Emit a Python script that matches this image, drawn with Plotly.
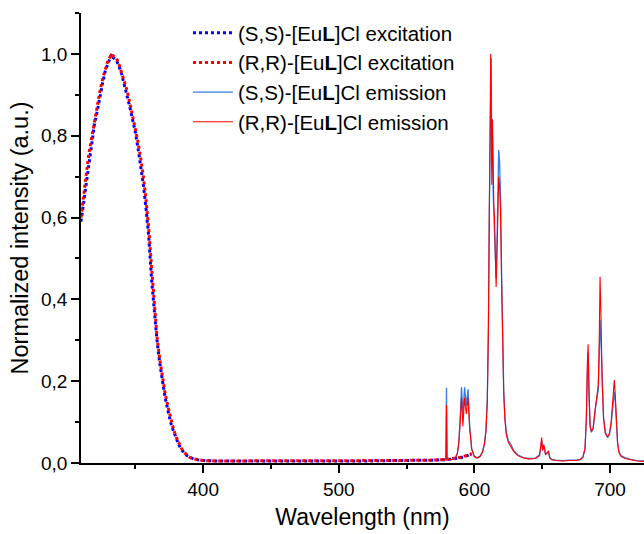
import plotly.graph_objects as go

# ---------------- data ----------------
exc_wl = [310, 312, 314, 316, 318, 320, 322, 324, 326, 328, 330, 332, 333, 334, 336, 338,
          340, 342, 344, 346, 348, 350, 352, 354, 356, 358, 360, 362, 364, 366, 368, 370,
          372, 374, 376, 378, 380, 382, 384, 386, 388, 390, 393, 396, 400, 410, 420, 440,
          460, 480, 500, 520, 540, 560, 570, 580, 585, 590, 595, 598]
exc_ss = [0.59, 0.64, 0.69, 0.74, 0.78, 0.83, 0.86, 0.90, 0.93, 0.96, 0.98, 0.995, 1.0, 0.99, 0.985, 0.97,
          0.95, 0.925, 0.90, 0.87, 0.84, 0.81, 0.77, 0.73, 0.68, 0.62, 0.55, 0.45, 0.37, 0.30, 0.245, 0.20,
          0.16, 0.13, 0.10, 0.08, 0.06, 0.045, 0.033, 0.024, 0.018, 0.014, 0.010, 0.008, 0.006, 0.005, 0.005, 0.004,
          0.004, 0.005, 0.005, 0.005, 0.006, 0.006, 0.007, 0.008, 0.010, 0.013, 0.018, 0.024]
exc_rr = [0.60, 0.66, 0.71, 0.76, 0.80, 0.84, 0.875, 0.91, 0.94, 0.965, 0.985, 0.995, 0.99, 0.995, 0.99, 0.975,
          0.955, 0.935, 0.91, 0.88, 0.85, 0.82, 0.785, 0.745, 0.70, 0.64, 0.57, 0.48, 0.39, 0.31, 0.255, 0.21,
          0.17, 0.14, 0.11, 0.085, 0.065, 0.05, 0.036, 0.026, 0.019, 0.014, 0.010, 0.008, 0.006, 0.005, 0.005, 0.005,
          0.005, 0.005, 0.006, 0.006, 0.006, 0.007, 0.007, 0.009, 0.011, 0.014, 0.019, 0.022]

em_wl = [575, 578, 579.0, 579.4, 579.8, 581, 584, 586, 587.5, 588.5, 589.5, 590.5, 591.5, 592.8, 594.0,
         595.3, 596.5, 598, 600, 602, 604, 606, 607.5, 608.5, 609.5, 610.3, 611.0, 611.6, 612.0, 612.4,
         612.8, 613.3, 613.8, 614.3, 614.8, 615.3, 616.0, 616.7, 617.3, 617.9, 618.5, 619.2, 620.0, 620.8,
         621.6, 622.5, 623.5, 625, 627, 629, 632, 636, 640, 645, 648, 649.0, 649.6, 650.3, 651.0, 651.6,
         652.4, 653.5, 654.6, 655.6, 657, 660, 665, 670, 675, 678, 680, 681.5, 682.5, 683.2, 683.8,
         684.5, 685.3, 686.2, 687.5, 689.0, 690.3, 691.3, 692.0, 692.6, 693.3, 694.2, 695.2, 696.5, 698.2,
         699.5, 700.8, 701.8, 702.5, 703.1, 703.8, 704.6, 705.5, 706.5, 708, 711, 715, 720, 725]
em_ss = [0.006, 0.007, 0.012, 0.184, 0.012, 0.008, 0.009, 0.013, 0.025, 0.05, 0.11, 0.185, 0.12, 0.185, 0.14,
         0.18, 0.09, 0.035, 0.016, 0.013, 0.016, 0.028, 0.05, 0.08, 0.16, 0.33, 0.62, 0.86, 0.97, 0.99,
         0.72, 0.80, 0.66, 0.62, 0.58, 0.50, 0.45, 0.55, 0.70, 0.765, 0.74, 0.66, 0.47, 0.30,
         0.18, 0.11, 0.075, 0.055, 0.045, 0.03, 0.02, 0.013, 0.011, 0.012, 0.02, 0.04, 0.055, 0.032, 0.04, 0.035,
         0.022, 0.024, 0.025, 0.013, 0.009, 0.007, 0.006, 0.007, 0.007, 0.009, 0.015, 0.035, 0.10, 0.21, 0.27,
         0.16, 0.09, 0.075, 0.085, 0.13, 0.16, 0.18, 0.26, 0.35, 0.30, 0.18, 0.11, 0.075, 0.062,
         0.07, 0.095, 0.13, 0.16, 0.174, 0.15, 0.10, 0.05, 0.028, 0.018, 0.013, 0.009, 0.006, 0.005]
em_rr = [0.006, 0.007, 0.012, 0.142, 0.012, 0.008, 0.009, 0.013, 0.024, 0.05, 0.10, 0.16, 0.09, 0.16, 0.12,
         0.16, 0.085, 0.033, 0.015, 0.012, 0.015, 0.026, 0.048, 0.078, 0.15, 0.32, 0.62, 0.88, 1.0, 0.86,
         0.68, 0.84, 0.66, 0.63, 0.60, 0.52, 0.43, 0.52, 0.66, 0.70, 0.68, 0.62, 0.45, 0.29,
         0.17, 0.105, 0.07, 0.05, 0.04, 0.028, 0.018, 0.012, 0.010, 0.011, 0.018, 0.04, 0.062, 0.03, 0.045, 0.038,
         0.02, 0.025, 0.03, 0.012, 0.008, 0.006, 0.005, 0.006, 0.006, 0.008, 0.014, 0.035, 0.11, 0.24, 0.29,
         0.17, 0.09, 0.077, 0.085, 0.13, 0.165, 0.19, 0.30, 0.455, 0.36, 0.19, 0.11, 0.072, 0.064,
         0.072, 0.10, 0.14, 0.18, 0.203, 0.17, 0.11, 0.05, 0.026, 0.016, 0.011, 0.008, 0.005, 0.004]

names = ["(S,S)-[Eu<b>L</b>]Cl excitation", "(R,R)-[Eu<b>L</b>]Cl excitation",
         "(S,S)-[Eu<b>L</b>]Cl emission", "(R,R)-[Eu<b>L</b>]Cl emission"]

FONT = "Arial, 'Liberation Sans', sans-serif"

fig = go.Figure()
fig.add_trace(go.Scatter(x=exc_wl, y=exc_ss, mode="lines", name=names[0],
                         line=dict(color="#0000ff", width=3, dash="dot")))
fig.add_trace(go.Scatter(x=exc_wl, y=exc_rr, mode="lines", name=names[1],
                         line=dict(color="#ff0000", width=3, dash="dot")))
fig.add_trace(go.Scatter(x=em_wl, y=em_ss, mode="lines", name=names[2],
                         line=dict(color="rgb(50,125,230)", width=1.3)))
fig.add_trace(go.Scatter(x=em_wl, y=em_rr, mode="lines", name=names[3],
                         line=dict(color="#ff0000", width=1.1)))

axis_common = dict(showline=True, linecolor="black", linewidth=1.5, ticks="outside",
                   ticklen=8, tickwidth=1.5, tickcolor="black", showgrid=False, zeroline=False,
                   tickfont=dict(family=FONT, size=19, color="black"),
                   mirror=False)

fig.update_layout(
    width=644, height=534,
    margin=dict(l=81, r=0, t=13, b=71),
    paper_bgcolor="white", plot_bgcolor="white",
    separators=", ",
    font=dict(family=FONT, color="black"),
    showlegend=True,
    legend=dict(x=0.19, y=1.0, xanchor="left", yanchor="top",
                bgcolor="rgba(0,0,0,0)", font=dict(family=FONT, size=20.5, color="black"),
                tracegroupgap=0, itemwidth=40),
    xaxis=dict(range=[310, 725], dtick=100, tick0=0,
               minor=dict(dtick=50, ticklen=4, tickwidth=1.5, tickcolor="black", ticks="outside"),
               title=dict(text="Wavelength (nm)", font=dict(family=FONT, size=23), standoff=10),
               **axis_common),
    yaxis=dict(range=[0, 1.1], dtick=0.2, tick0=0, tickformat=".1f",
               minor=dict(dtick=0.1, ticklen=4, tickwidth=1.5, tickcolor="black", ticks="outside"),
               title=dict(text="Normalized intensity (a.u.)", font=dict(family=FONT, size=23.5), standoff=6),
               **axis_common),
)

fig.write_html("out.html")
